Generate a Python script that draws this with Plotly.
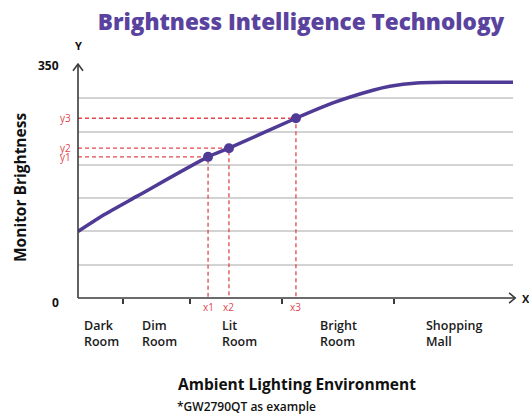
import plotly.graph_objects as go

# ---- data ----
curve_x = [0, 5.7, 13.6, 29.9, 34.7, 50.1, 58.6, 67.8, 71.7, 77.9, 85.7, 100]
curve_y = [100, 124, 153, 212, 225, 270, 293, 312, 318, 323, 324, 324]
point_x = [29.9, 34.7, 50.1]
point_y = [212, 225, 270]
point_x_labels = ["x1", "x2", "x3"]
point_y_labels = ["y1", "y2", "y3"]
category_x = [0.9, 14.3, 32.6, 55.2, 79.5]
category_labels = ["Dark<br>Room", "Dim<br>Room", "Lit<br>Room", "Bright<br>Room", "Shopping<br>Mall"]
tick_x = [10.3, 25.7, 46.9, 72.6]
y_min, y_max = 0, 350

PURPLE = "#4f3a96"
RED = "#e0484e"
AXIS = "#3a3a3a"
FONT = "Open Sans"

fig = go.Figure()

# red guide lines
for px, py in zip(point_x, point_y):
    fig.add_trace(go.Scatter(x=[0, px, px], y=[py, py, 0], mode="lines",
                             line=dict(color=RED, width=1.3, dash="4px,3px"),
                             hoverinfo="skip", showlegend=False))

fig.add_trace(go.Scatter(x=curve_x, y=curve_y, mode="lines",
                         line=dict(color=PURPLE, width=3.5, shape="spline", smoothing=0.7),
                         showlegend=False))
fig.add_trace(go.Scatter(x=point_x, y=point_y, mode="markers",
                         marker=dict(color=PURPLE, size=10), showlegend=False))

ann = []
for px, lab in zip(point_x, point_x_labels):
    ann.append(dict(x=px, y=-(307 - 298) / 233, xref="x", yref="paper", text=lab, showarrow=False,
                    font=dict(color=RED, size=10, family=FONT), yanchor="middle"))
for py, lab in zip(point_y, point_y_labels):
    ann.append(dict(x=-0.012, y=py, xref="paper", yref="y", text=lab, showarrow=False,
                    font=dict(color=RED, size=10, family=FONT), xanchor="right"))
for cx, lab in zip(category_x, category_labels):
    ann.append(dict(x=cx, y=-(333 - 298) / 233, xref="x", yref="paper", text=lab,
                    showarrow=False, xanchor="left", yanchor="middle", align="left",
                    font=dict(color="#1a1a1a", size=12.5, family=FONT, weight=600)))
ann += [
    dict(x=-0.04, y=y_max, xref="paper", yref="y", text=str(y_max), showarrow=False,
         xanchor="right", font=dict(color="#111", size=12, family=FONT, weight=700)),
    dict(x=-0.04, y=-0.02, xref="paper", yref="paper", text=str(y_min), showarrow=False,
         xanchor="right", yanchor="middle", font=dict(color="#111", size=12, family=FONT, weight=700)),
    dict(x=0, y=1.045, xref="paper", yref="paper", text="Y", showarrow=False,
         xanchor="center", yanchor="bottom", font=dict(color="#111", size=11, family=FONT, weight=700)),
    dict(x=1.015, y=0, xref="paper", yref="paper", text="X", showarrow=False,
         xanchor="left", yanchor="middle", font=dict(color="#111", size=11, family=FONT, weight=700)),
    dict(x=(297 - 78) / 435, y=-(384 - 298) / 233, xref="paper", yref="paper",
         text="Ambient Lighting Environment", showarrow=False, yanchor="middle",
         font=dict(color="#111", size=15.5, family=FONT, weight=700)),
    dict(x=(175 - 78) / 435, y=-(406 - 298) / 233, xref="paper", yref="paper",
         text="*GW2790QT as example", showarrow=False, xanchor="left", yanchor="middle",
         font=dict(color="#111", size=12, family=FONT, weight=600)),
    dict(x=(20 - 78) / 435, y=(298 - 188) / 233, xref="paper", yref="paper",
         text="Monitor Brightness", showarrow=False, textangle=-90,
         xanchor="center", yanchor="middle",
         font=dict(color="#111", size=15.5, family=FONT, weight=700)),
]

shapes = [
    # y axis
    dict(type="line", xref="paper", yref="paper", x0=0, x1=0, y0=0, y1=1.004,
         line=dict(color=AXIS, width=1.6)),
    dict(type="path", xref="paper", yref="paper",
         path="M -0.0115 0.975 L 0 1.004 L 0.0115 0.975", line=dict(color=AXIS, width=1.6)),
    # x axis
    dict(type="line", xref="paper", yref="paper", x0=0, x1=1.005, y0=0, y1=0,
         line=dict(color=AXIS, width=1.6)),
    dict(type="path", xref="paper", yref="paper",
         path="M 0.991 0.022 L 1.005 0 L 0.991 -0.022", line=dict(color=AXIS, width=1.6)),
]

fig.update_layout(
    width=529, height=416,
    margin=dict(l=78, r=16, t=65, b=118),
    paper_bgcolor="white", plot_bgcolor="white",
    title=dict(text="Brightness Intelligence Technology", x=301 / 529, xanchor="center",
               y=1 - 22 / 416, yanchor="middle",
               font=dict(color="#5a439e", size=22.5, family=FONT, weight=800)),
    xaxis=dict(range=[0, 100], showgrid=False, zeroline=False, showline=False,
               tickvals=tick_x, ticks="outside", ticklen=5, tickwidth=1.5, tickcolor=AXIS,
               showticklabels=False, fixedrange=True),
    yaxis=dict(range=[y_min, y_max], dtick=50, showgrid=True, gridcolor="#d3d3d3", gridwidth=1.5,
               zeroline=False, showline=False, showticklabels=False, fixedrange=True),
    annotations=ann, shapes=shapes, showlegend=False,
)

fig.write_html("out.html", config={"displayModeBar": False},
               post_script="document.body.style.margin='0';document.body.style.padding='0';")
